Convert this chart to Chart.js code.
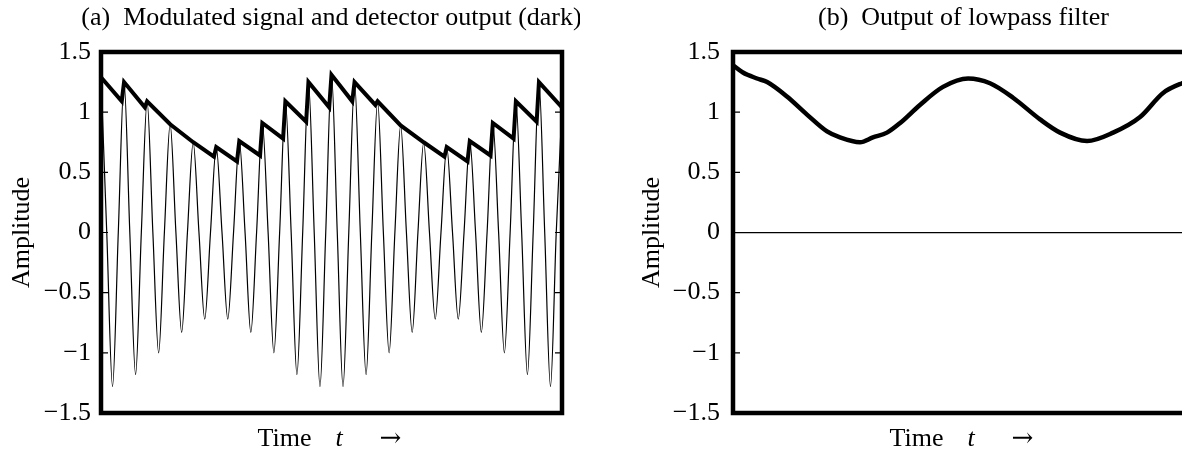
<!DOCTYPE html>
<html>
<head>
<meta charset="utf-8">
<script src="https://cdn.jsdelivr.net/npm/chart.js@4.4.1/dist/chart.umd.min.js"></script>
<style>
    html, body { margin: 0; padding: 0; background: #fff; }
    body { width: 1182px; height: 449px; overflow: hidden; position: relative; }
    .panel { position: absolute; top: 0; height: 449px; }
    #panelA { left: 0; width: 580px; }
    #panelB { left: 600px; width: 612px; }
</style>
</head>
<body>
<div class="panel" id="panelA"><canvas id="chartA" width="580" height="449"></canvas></div>
<div class="panel" id="panelB"><canvas id="chartB" width="612" height="449"></canvas></div>
<script>
// Tick labels shared by both panels
const yTicks = [1.5, 1, 0.5, 0, -0.5, -1, -1.5];

// (a) Modulated signal, time measured in carrier periods.
// Peaks sit on whole periods, troughs half a period later.
const carrierPeaks = [1.29, 1.25, 1.09, 0.90, 0.75, 0.71, 0.76, 0.91, 1.09, 1.25,
                      1.31, 1.25, 1.09, 0.89, 0.75, 0.71, 0.76, 0.91, 1.09, 1.25, 1.04];
const carrierTroughs = [-1.28, -1.18, -1.00, -0.83, -0.72, -0.72, -0.83, -1.00, -1.18, -1.28,
                        -1.28, -1.18, -1.00, -0.83, -0.72, -0.72, -0.83, -1.00, -1.18, -1.28];

// (a) Detector output (dark): charges on each peak, decays until the next one
const detectorT = [0, 0.9, 1, 1.9, 2, 3, 4, 4.9, 5, 5.9, 6, 6.9, 7, 7.9, 8, 8.9, 9, 9.9,
                   10, 10.9, 11, 11.9, 12, 13, 14, 14.9, 15, 15.9, 16, 16.9, 17, 17.9, 18, 18.9, 19, 20];
const detectorV = [1.29, 1.09, 1.25, 1.04, 1.09, 0.90, 0.75, 0.63, 0.71, 0.59, 0.76, 0.64, 0.91, 0.78,
                   1.09, 0.92, 1.25, 1.04, 1.31, 1.09, 1.25, 1.06, 1.09, 0.89, 0.75, 0.63, 0.71, 0.59,
                   0.76, 0.64, 0.91, 0.78, 1.09, 0.92, 1.25, 1.04];

// (b) Output of lowpass filter
const lowpassT = [0, 0.43, 1.04, 1.48, 2.34, 3.21, 4.08, 4.64, 5.51, 6.07, 6.68, 7.25, 8.11, 9.11,
                  10.2, 11.15, 12.15, 13.32, 14.19, 15.36, 16.49, 17.66, 18.66, 19.48, 20];
const lowpassV = [1.39, 1.33, 1.28, 1.25, 1.13, 0.98, 0.84, 0.79, 0.75, 0.79, 0.83, 0.91, 1.06, 1.21,
                  1.28, 1.24, 1.12, 0.94, 0.83, 0.76, 0.83, 0.96, 1.16, 1.24, 1.27];

const FONT = 'Liberation Serif, Times New Roman, serif';
const SIZE = 26;

function carrierPoints() {
    const pts = [];
    carrierTroughs.forEach((tr, k) => {
        pts.push({x: k, y: carrierPeaks[k]});
        pts.push({x: k + 0.25, y: 0});
        pts.push({x: k + 0.5, y: tr});
        pts.push({x: k + 0.75, y: 0});
    });
    const last = carrierPeaks.length - 1;
    pts.push({x: last, y: carrierPeaks[last]});
    return pts;
}

function zip(xs, ys) {
    return xs.map((x, i) => ({x: x, y: ys[i]}));
}

function tickText(v) {
    return v < 0 ? '\u2212' + Math.abs(v) : String(v);
}

// frame, inward tick marks, panel title and the "Time t ->" label
const framePlugin = {
    id: 'frame',
    afterDatasetsDraw(chart, args, opts) {
        const {ctx, chartArea: a} = chart;
        const y = chart.scales.y;
        ctx.save();
        ctx.strokeStyle = '#000';
        ctx.lineWidth = 1.2;
        yTicks.forEach(v => {
            const py = y.getPixelForValue(v);
            ctx.beginPath();
            ctx.moveTo(a.left, py);
            ctx.lineTo(a.left + 7, py);
            ctx.moveTo(a.right, py);
            ctx.lineTo(a.right - 7, py);
            ctx.stroke();
        });
        ctx.lineWidth = 4.5;
        ctx.strokeRect(a.left, a.top, a.right - a.left, a.bottom - a.top);

        const cx = (a.left + a.right) / 2;
        ctx.fillStyle = '#000';
        ctx.textBaseline = 'alphabetic';

        ctx.textAlign = 'center';
        ctx.font = SIZE + 'px ' + FONT;
        ctx.fillText(opts.title, cx, 25);

        ctx.textAlign = 'left';
        ctx.fillText('Time', cx - 74, 446);
        ctx.font = 'italic ' + SIZE + 'px ' + FONT;
        ctx.fillText('t', cx + 4, 446);
        ctx.font = SIZE + 'px DejaVu Serif';
        ctx.fillText('\u2192', cx + 48, 446);
        ctx.restore();
    }
};

function makeOptions(title, axisLeft, labelPad, titlePad) {
    return {
        responsive: false,
        animation: false,
        events: [],
        layout: {padding: {left: 0, right: 18, top: 52, bottom: 36}},
        plugins: {
            legend: {display: false},
            tooltip: {enabled: false},
            title: {display: false},
            frame: {title: title}
        },
        scales: {
            x: {
                type: 'linear',
                min: 0,
                max: 20,
                display: false
            },
            y: {
                min: -1.5,
                max: 1.5,
                afterBuildTicks: s => { s.ticks = yTicks.map(v => ({value: v})); },
                afterFit: s => { s.width = axisLeft; },
                border: {display: false},
                grid: {
                    drawTicks: false,
                    drawOnChartArea: title.startsWith('(b)'),
                    color: c => (c.tick && c.tick.value === 0) ? '#000' : 'rgba(0,0,0,0)',
                    lineWidth: 1.3
                },
                ticks: {
                    color: '#000',
                    padding: labelPad,
                    font: {family: FONT, size: SIZE},
                    callback: v => tickText(v)
                },
                title: {
                    display: true,
                    text: 'Amplitude',
                    color: '#000',
                    font: {family: FONT, size: SIZE},
                    padding: {top: titlePad, bottom: 0}
                }
            }
        }
    };
}

new Chart(document.getElementById('chartA'), {
    type: 'line',
    data: {
        datasets: [
            {
                label: 'Detector output',
                data: zip(detectorT, detectorV),
                borderColor: '#000',
                borderWidth: 4,
                pointRadius: 0,
                tension: 0,
                order: 0
            },
            {
                label: 'Modulated signal',
                data: carrierPoints(),
                borderColor: '#000',
                borderWidth: 1.2,
                pointRadius: 0,
                cubicInterpolationMode: 'monotone',
                order: 1
            }
        ]
    },
    options: makeOptions('(a)  Modulated signal and detector output (dark)', 101, 10, 7),
    plugins: [framePlugin]
});

new Chart(document.getElementById('chartB'), {
    type: 'line',
    data: {
        datasets: [{
            label: 'Lowpass output',
            data: zip(lowpassT, lowpassV),
            borderColor: '#000',
            borderWidth: 4.5,
            pointRadius: 0,
            cubicInterpolationMode: 'monotone'
        }]
    },
    options: makeOptions('(b)  Output of lowpass filter', 133, 13, 37),
    plugins: [framePlugin]
});
</script>
</body>
</html>
